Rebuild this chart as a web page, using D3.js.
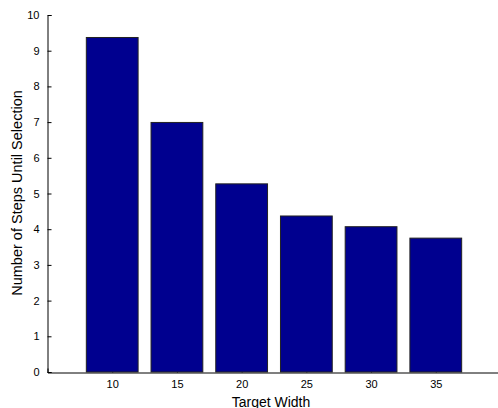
<!DOCTYPE html>
<html>
<head>
<meta charset="utf-8">
<script src="https://cdn.jsdelivr.net/npm/d3@7"></script>
<style>
  body { margin: 0; background: #fff; }
  text { font-family: Arial, "Liberation Sans", sans-serif; }
</style>
</head>
<body>
<div id="chart"></div>
<script>
// target widths and mean steps until selection
const widths = [10, 15, 20, 25, 30, 35];
const steps = [9.37, 6.99, 5.27, 4.37, 4.07, 3.75];
const yTicks = [0, 1, 2, 3, 4, 5, 6, 7, 8, 9, 10];

const W = 498, H = 408;
const svg = d3.select("#chart").append("svg")
  .attr("width", W)
  .attr("height", H);

const x = d3.scaleLinear().domain([5, 40]).range([47.5, 500.5]);
const y = d3.scaleLinear().domain([0, 10]).range([372, 15]);

// y axis, ticks pointing inward
const yAxis = svg.append("g")
  .attr("transform", "translate(47.5,0)")
  .call(d3.axisLeft(y).tickValues(yTicks).tickSize(-4).tickPadding(8));
yAxis.select(".domain").attr("stroke", "#000");
yAxis.selectAll("line").attr("stroke", "#000");
yAxis.selectAll("text").attr("font-size", 11).attr("fill", "#000")
  .attr("font-family", "Arial, 'Liberation Sans', sans-serif");

// x axis
const xAxis = svg.append("g")
  .attr("transform", "translate(0,372.5)")
  .call(d3.axisBottom(x).tickValues(widths).tickSize(-4).tickPadding(8));
xAxis.select(".domain").attr("stroke", "#000");
xAxis.selectAll("line").attr("stroke", "#000");
xAxis.selectAll("text").attr("font-size", 11).attr("fill", "#000")
  .attr("font-family", "Arial, 'Liberation Sans', sans-serif");

// bars
const bw = x(4) - x(0);
svg.selectAll("rect.bar")
  .data(widths)
  .join("rect")
  .attr("class", "bar")
  .attr("x", (d) => x(d) - bw / 2)
  .attr("y", (d, i) => y(steps[i]))
  .attr("width", bw)
  .attr("height", (d, i) => y(0) - y(steps[i]))
  .attr("fill", "#00008f")
  .attr("stroke", "#222")
  .attr("stroke-width", 1);

// axis labels
svg.append("text")
  .attr("x", (x(5) + x(40)) / 2 - 3)
  .attr("y", 406.5)
  .attr("text-anchor", "middle")
  .attr("font-size", 14)
  .text("Target Width");

svg.append("text")
  .attr("transform", "translate(22,193) rotate(-90)")
  .attr("text-anchor", "middle")
  .attr("font-size", 14.5)
  .text("Number of Steps Until Selection");
</script>
</body>
</html>
